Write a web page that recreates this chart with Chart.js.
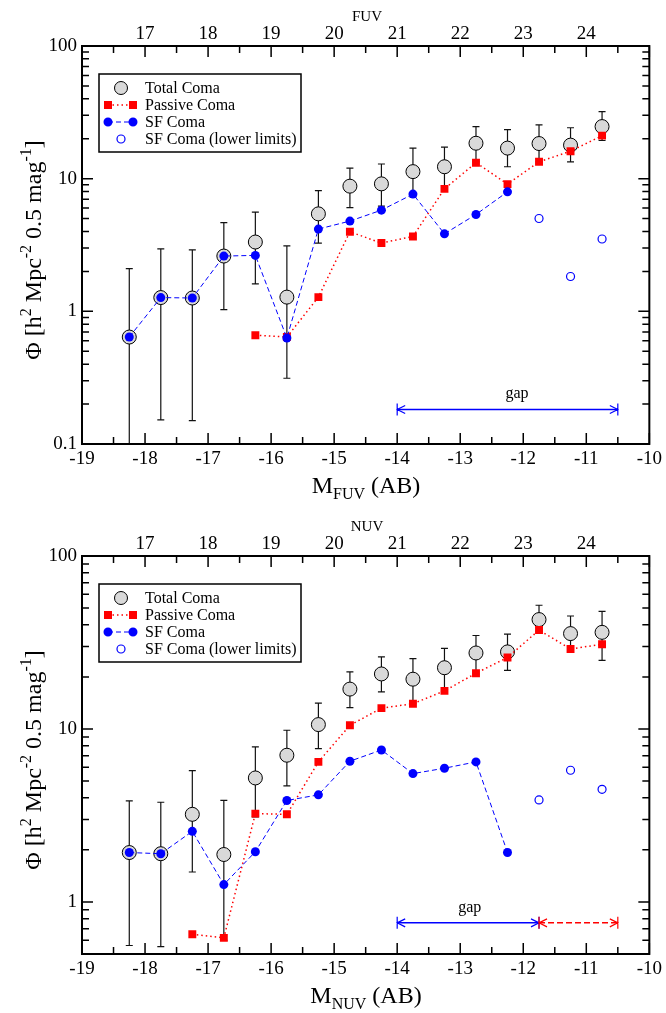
<!DOCTYPE html>
<html>
<head>
<meta charset="utf-8">
<script src="https://cdn.jsdelivr.net/npm/chart.js@4.4.0/dist/chart.umd.min.js"></script>
<style>
  body { margin: 0; background: #fff; }
  .panel { position: absolute; left: 0; }
</style>
</head>
<body>
<canvas id="fuv" class="panel" style="top:0" width="666" height="510"></canvas>
<canvas id="nuv" class="panel" style="top:510px" width="666" height="503"></canvas>
<script>
// bin centres, absolute magnitude
const magBins = [-18.25, -17.75, -17.25, -16.75, -16.25, -15.75, -15.25, -14.75,
                 -14.25, -13.75, -13.25, -12.75, -12.25, -11.75, -11.25, -10.75];

// FUV luminosity function
const fuvTotal   = [0.64, 1.27, 1.26, 2.61, 3.33, 1.28, 5.43, 8.78, 9.14, 11.3, 12.3, 18.5, 17.0, 18.4, 17.9, 24.7];
const fuvTotalHi = [2.1, 2.96, 2.91, 4.67, 5.6, 3.12, 8.13, 12.0, 12.9, 17.0, 17.3, 24.7, 23.4, 25.4, 24.2, 32.0];
const fuvTotalLo = [0.08, 0.152, 0.150, 1.03, 1.61, 0.313, 3.27, 6.06, 6.2, 7.3, 8.5, 13.4, 12.3, 13.4, 13.4, 19.4];
const fuvPassive = [null, null, null, null, 0.66, 0.64, 1.28, 3.98, 3.27, 3.67, 8.38, 13.2, 9.1, 13.4, 16.1, 21.1];
const fuvSF      = [0.64, 1.27, 1.26, 2.61, 2.64, 0.63, 4.17, 4.79, 5.79, 7.65, 3.84, 5.37, 7.96, null, null, null];
const fuvSFLimit = [null, null, null, null, null, null, null, null, null, null, null, null, null, 5.01, 1.83, 3.51];

// NUV luminosity function
const nuvTotal   = [1.93, 1.90, 3.21, 1.88, 5.21, 7.05, 10.6, 17.0, 20.8, 19.4, 22.6, 27.5, 27.9, 42.9, 35.6, 36.2];
const nuvTotalHi = [3.84, 3.77, 5.75, 3.86, 7.87, 9.83, 14.1, 21.4, 26.1, 25.5, 29.2, 34.7, 35.3, 51.9, 45.0, 47.9];
const nuvTotalLo = [0.56, 0.552, 1.49, 0.6, 3.1, 4.69, 7.7, 13.3, 16.4, 14.1, 16.5, 20.8, 21.8, 36.8, 28.2, 24.9];
const nuvPassive = [null, null, 0.65, 0.62, 3.24, 3.21, 6.45, 10.5, 13.2, 14.0, 16.6, 21.0, 25.9, 37.3, 29.0, 30.9];
const nuvSF      = [1.93, 1.90, 2.56, 1.26, 1.95, 3.86, 4.16, 6.51, 7.56, 5.52, 5.93, 6.45, 1.93, null, null, null];
const nuvSFLimit = [null, null, null, null, null, null, null, null, null, null, null, null, null, 3.89, 5.77, 4.48];

// completeness gaps [from, to, phi]
const fuvGapFrom = [-14];
const fuvGapTo   = [-10.5];
const fuvGapPhi  = [0.182];
const nuvGapFrom = [-14, -11.75];
const nuvGapTo   = [-11.75, -10.5];
const nuvGapPhi  = [0.757, 0.757];

// tick labels
const absTicks = [-19, -18, -17, -16, -15, -14, -13, -12, -11, -10];
const appTicks = [17, 18, 19, 20, 21, 22, 23, 24];
const fuvPhiTicks = [0.1, 1, 10, 100];
const nuvPhiTicks = [1, 10, 100];
const legendLabels = ['Total Coma', 'Passive Coma', 'SF Coma', 'SF Coma (lower limits)'];

const SERIF = '"Liberation Serif", "Times New Roman", serif';
const RED = '#ff0000', BLUE = '#0000ff', GREY = '#d9d9d9';

function pts(vals) {
  return magBins.map((x, i) => ({ x: x, y: vals[i] })).filter(p => p.y != null);
}

function drawRich(ctx, parts, x, y) {
  let w = 0;
  parts.forEach(p => { ctx.font = p.size + 'px ' + SERIF; p.w = ctx.measureText(p.t).width; w += p.w; });
  let cx = x - w / 2;
  ctx.textAlign = 'left';
  ctx.textBaseline = 'alphabetic';
  parts.forEach(p => {
    ctx.font = p.size + 'px ' + SERIF;
    ctx.fillText(p.t, cx, y + (p.dy || 0));
    cx += p.w;
  });
}

function arrow(ctx, x1, x2, y, color, dash) {
  ctx.save();
  ctx.strokeStyle = color;
  ctx.lineWidth = 1.5;
  ctx.setLineDash(dash);
  ctx.beginPath(); ctx.moveTo(x1, y); ctx.lineTo(x2, y); ctx.stroke();
  ctx.setLineDash([]);
  ctx.lineWidth = 1.2;
  ctx.beginPath();
  ctx.moveTo(x1, y - 6); ctx.lineTo(x1, y + 6);
  ctx.moveTo(x2, y - 6); ctx.lineTo(x2, y + 6);
  ctx.moveTo(x1 + 8, y - 4); ctx.lineTo(x1, y); ctx.lineTo(x1 + 8, y + 4);
  ctx.moveTo(x2 - 8, y - 4); ctx.lineTo(x2, y); ctx.lineTo(x2 - 8, y + 4);
  ctx.stroke();
  ctx.restore();
}

// error bars, frame, inward ticks, legend, titles, gap arrows
const framePlugin = {
  id: 'frame',
  beforeDatasetsDraw(chart, args, o) {
    const ctx = chart.ctx, xs = chart.scales.x, ys = chart.scales.y, a = chart.chartArea;
    ctx.save();
    ctx.beginPath(); ctx.rect(a.left, a.top, a.width, a.height); ctx.clip();
    ctx.strokeStyle = '#111';
    ctx.lineWidth = 1.2;
    ctx.beginPath();
    magBins.forEach((m, i) => {
      if (o.total[i] == null) return;
      const x = xs.getPixelForValue(m);
      const yh = ys.getPixelForValue(o.hi[i]), yl = ys.getPixelForValue(o.lo[i]);
      ctx.moveTo(x, yh); ctx.lineTo(x, yl);
      ctx.moveTo(x - 3.5, yh); ctx.lineTo(x + 3.5, yh);
      ctx.moveTo(x - 3.5, yl); ctx.lineTo(x + 3.5, yl);
    });
    ctx.stroke();
    ctx.restore();
  },
  afterDatasetsDraw(chart, args, o) {
    const ctx = chart.ctx, xs = chart.scales.x, x2 = chart.scales.x2, ys = chart.scales.y, a = chart.chartArea;
    ctx.save();
    // inward ticks
    ctx.strokeStyle = '#000';
    ctx.lineWidth = 1.5;
    ctx.beginPath();
    for (let v = -19; v <= -10.001 + 0.5; v += 0.5) {
      const x = xs.getPixelForValue(v), len = Number.isInteger(v) ? 11 : 7;
      ctx.moveTo(x, a.bottom); ctx.lineTo(x, a.bottom - len);
    }
    for (let v = 16; v <= 25; v += 0.5) {
      const x = x2.getPixelForValue(v), len = Number.isInteger(v) ? 11 : 7;
      ctx.moveTo(x, a.top); ctx.lineTo(x, a.top + len);
    }
    for (let d = -2; d <= 2; d++) {
      for (let k = 1; k <= 9; k++) {
        const v = k * Math.pow(10, d);
        if (v < ys.min * 0.999 || v > ys.max * 1.001) continue;
        const y = ys.getPixelForValue(v), len = k === 1 ? 11 : 7;
        ctx.moveTo(a.left, y); ctx.lineTo(a.left + len, y);
        ctx.moveTo(a.right, y); ctx.lineTo(a.right - len, y);
      }
    }
    ctx.stroke();
    ctx.lineWidth = 2;
    ctx.strokeRect(a.left, a.top, a.width, a.height);

    // gap arrows
    o.gapFrom.forEach((g, i) => {
      arrow(ctx, xs.getPixelForValue(g), xs.getPixelForValue(o.gapTo[i]), ys.getPixelForValue(o.gapPhi[i]),
            i === 0 ? BLUE : RED, i === 0 ? [] : [6, 3]);
    });
    ctx.fillStyle = '#000';
    ctx.font = '16px ' + SERIF;
    ctx.textAlign = 'center';
    ctx.textBaseline = 'alphabetic';
    ctx.fillText('gap', xs.getPixelForValue(o.gapLabelAt), ys.getPixelForValue(o.gapPhi[0]) - 11);

    // legend
    const lx = 99, ly = 74;
    ctx.lineWidth = 1.5;
    ctx.strokeStyle = '#000';
    ctx.strokeRect(lx, ly, 202, 78);
    const rows = [88, 105, 122, 139];
    // total
    ctx.beginPath(); ctx.arc(121, rows[0], 6.5, 0, Math.PI * 2);
    ctx.fillStyle = GREY; ctx.fill(); ctx.lineWidth = 1; ctx.stroke();
    // passive
    ctx.strokeStyle = RED; ctx.lineWidth = 1.5; ctx.setLineDash([1.5, 3]);
    ctx.beginPath(); ctx.moveTo(108, rows[1]); ctx.lineTo(133, rows[1]); ctx.stroke();
    ctx.setLineDash([]);
    ctx.fillStyle = RED;
    ctx.fillRect(104, rows[1] - 4, 8, 8); ctx.fillRect(129, rows[1] - 4, 8, 8);
    // SF
    ctx.strokeStyle = BLUE; ctx.lineWidth = 1; ctx.setLineDash([5, 3]);
    ctx.beginPath(); ctx.moveTo(108, rows[2]); ctx.lineTo(133, rows[2]); ctx.stroke();
    ctx.setLineDash([]);
    ctx.fillStyle = BLUE;
    ctx.beginPath(); ctx.arc(108, rows[2], 4.5, 0, Math.PI * 2); ctx.arc(133, rows[2], 4.5, 0, Math.PI * 2); ctx.fill();
    // lower limits
    ctx.lineWidth = 1.2;
    ctx.beginPath(); ctx.arc(121, rows[3], 4, 0, Math.PI * 2); ctx.stroke();
    ctx.fillStyle = '#000';
    ctx.font = '16px ' + SERIF;
    ctx.textAlign = 'left';
    ctx.textBaseline = 'middle';
    legendLabels.forEach((t, i) => ctx.fillText(t, 145, rows[i] + 1));

    // axis titles
    ctx.fillStyle = '#000';
    drawRich(ctx, [{ t: 'M', size: 24 }, { t: o.band, size: 16, dy: 6 }, { t: ' (AB)', size: 24 }], 366, 493);
    drawRich(ctx, [{ t: o.band, size: 15 }], 367, 21);
    ctx.save();
    ctx.translate(41, 250);
    ctx.rotate(-Math.PI / 2);
    drawRich(ctx, [
      { t: 'Φ [h', size: 24 }, { t: '2', size: 16, dy: -10 },
      { t: ' Mpc', size: 24 }, { t: '-2', size: 16, dy: -10 },
      { t: ' 0.5 mag', size: 24 }, { t: '-1', size: 16, dy: -10 },
      { t: ']', size: 24 }
    ], 0, 0);
    ctx.restore();
    ctx.restore();
  }
};

function axisTicks(vals) {
  return s => { s.ticks = vals.map(v => ({ value: v })); };
}

function makeChart(id, band, total, hi, lo, passive, sf, sfLim, phiMin, phiTicks, gapFrom, gapTo, gapPhi, gapLabelAt) {
  const canvas = document.getElementById(id);
  const H = canvas.height;
  const tickFont = { family: SERIF, size: 19 };
  const common = {
    grid: { display: false, drawTicks: false },
    border: { display: false },
    ticks: { font: tickFont, color: '#000', callback: v => String(v) }
  };
  return new Chart(canvas, {
    type: 'scatter',
    plugins: [framePlugin],
    data: {
      datasets: [
        { label: legendLabels[0], data: pts(total), showLine: false, pointRadius: 7, pointHoverRadius: 7,
          pointBackgroundColor: GREY, pointBorderColor: '#000', pointBorderWidth: 1, order: 4 },
        { label: legendLabels[1], data: pts(passive), showLine: true, borderColor: RED, borderWidth: 1.5,
          borderDash: [1.5, 3], pointStyle: 'rect', pointRadius: 5.6, pointBackgroundColor: RED,
          pointBorderWidth: 0, order: 3 },
        { label: legendLabels[2], data: pts(sf), showLine: true, borderColor: BLUE, borderWidth: 1,
          borderDash: [5, 3], pointRadius: 4.5, pointBackgroundColor: BLUE, pointBorderWidth: 0, order: 2 },
        { label: legendLabels[3], data: pts(sfLim), showLine: false, pointRadius: 4,
          pointBackgroundColor: 'rgba(0,0,0,0)', pointBorderColor: BLUE, pointBorderWidth: 1.2, order: 1 }
      ]
    },
    options: {
      responsive: false,
      animation: false,
      events: [],
      layout: { padding: { left: 0, right: 15, top: 0, bottom: 0 } },
      plugins: {
        legend: { display: false },
        tooltip: { enabled: false },
        frame: { band, total, hi, lo, gapFrom, gapTo, gapPhi, gapLabelAt }
      },
      scales: {
        x: Object.assign({}, common, {
          type: 'linear', position: 'bottom', min: -19, max: -10,
          afterBuildTicks: axisTicks(absTicks),
          afterFit: s => { s.height = H - 444; },
          ticks: Object.assign({}, common.ticks, { padding: 4 })
        }),
        x2: Object.assign({}, common, {
          type: 'linear', position: 'top', min: 16, max: 25,
          afterBuildTicks: axisTicks(appTicks),
          afterFit: s => { s.height = 46; },
          ticks: Object.assign({}, common.ticks, { padding: 1 })
        }),
        y: Object.assign({}, common, {
          type: 'logarithmic', position: 'left', min: phiMin, max: 100,
          afterBuildTicks: axisTicks(phiTicks),
          afterFit: s => { s.width = 82; },
          ticks: Object.assign({}, common.ticks, { padding: 5 })
        })
      }
    }
  });
}

makeChart('fuv', 'FUV', fuvTotal, fuvTotalHi, fuvTotalLo, fuvPassive, fuvSF, fuvSFLimit,
          0.1, fuvPhiTicks, fuvGapFrom, fuvGapTo, fuvGapPhi, -12.1);
makeChart('nuv', 'NUV', nuvTotal, nuvTotalHi, nuvTotalLo, nuvPassive, nuvSF, nuvSFLimit,
          0.5, nuvPhiTicks, nuvGapFrom, nuvGapTo, nuvGapPhi, -12.85);
</script>
</body>
</html>
